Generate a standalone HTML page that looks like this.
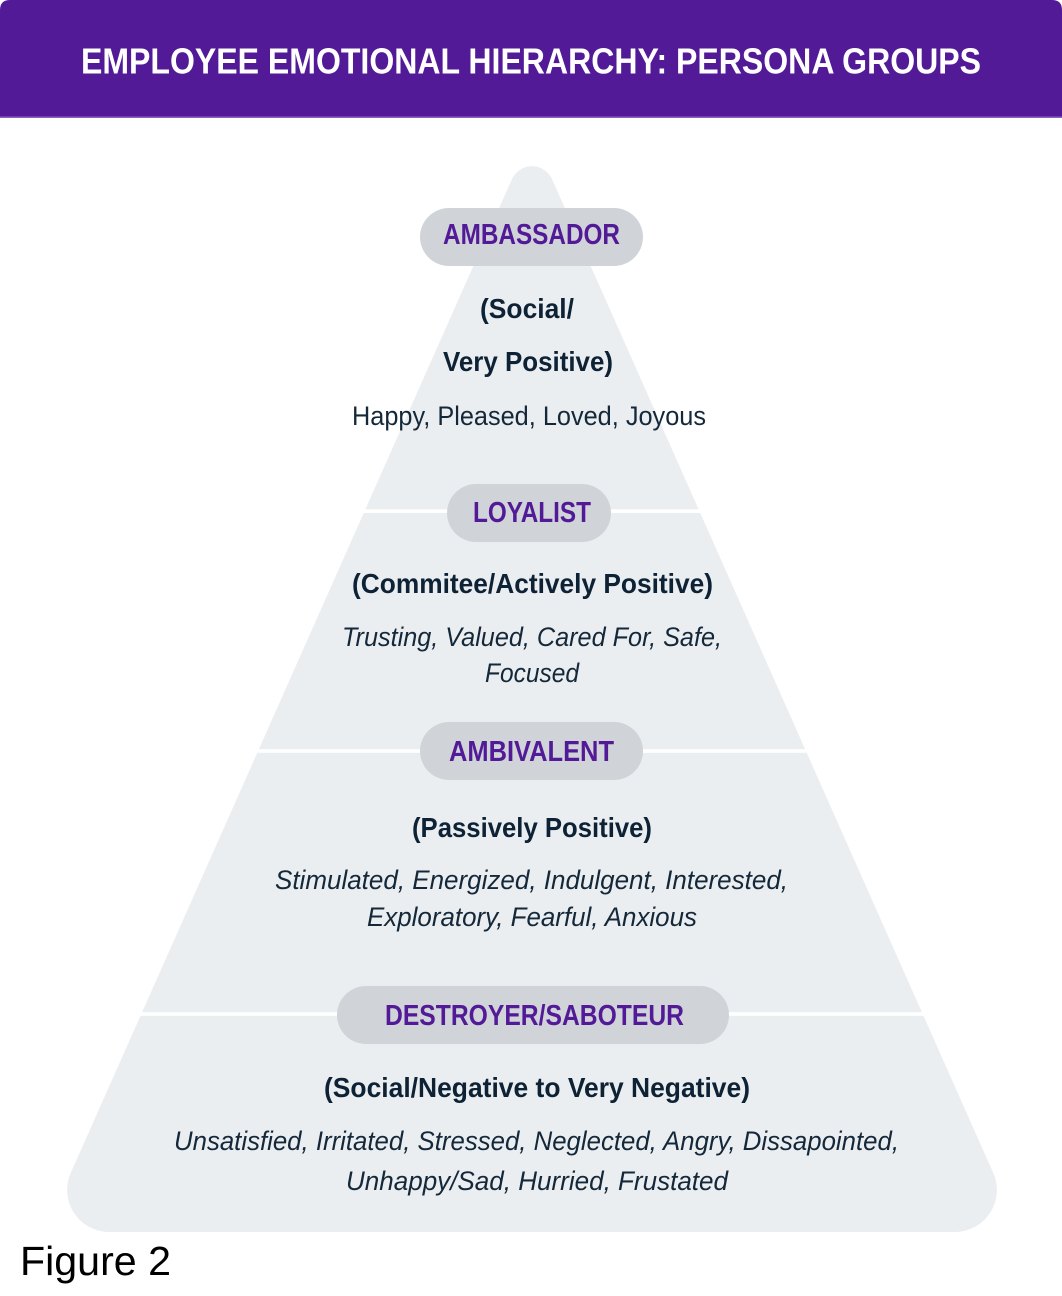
<!DOCTYPE html>
<html>
<head>
<meta charset="utf-8">
<style>
  html, body { margin: 0; padding: 0; background: #ffffff; }
  body { width: 1062px; height: 1296px; overflow: hidden; }
  svg { display: block; }
  .pill { font-family: "Liberation Sans", sans-serif; font-weight: bold; font-size: 29px; fill: #531a97; }
  .bold { font-family: "Liberation Sans", sans-serif; font-weight: bold; font-size: 28px; fill: #0e2236; }
  .reg { font-family: "Liberation Sans", sans-serif; font-size: 27px; fill: #14283a; }
  .ital { font-family: "Liberation Sans", sans-serif; font-style: italic; font-size: 27px; fill: #14283a; }
</style>
</head>
<body>
<svg width="1062" height="1296" viewBox="0 0 1062 1296" xmlns="http://www.w3.org/2000/svg">
  <rect x="0" y="0" width="1062" height="1296" fill="#ffffff"/>
  <!-- header -->
  <path d="M10 0 H1052 Q1062 0 1062 10 V117 H0 V10 Q0 0 10 0 Z" fill="#531a97"/>
  <rect x="0" y="116.5" width="1062" height="1.5" fill="#8b62c2"/>
  <text x="81" y="73.5" font-family="Liberation Sans, sans-serif" font-weight="bold" font-size="36" fill="#ffffff" textLength="900" lengthAdjust="spacingAndGlyphs">EMPLOYEE EMOTIONAL HIERARCHY: PERSONA GROUPS</text>

  <!-- pyramid -->
  <path d="M511.9 179.2 A22 22 0 0 1 552.1 179.2 L993.3 1173 A42 42 0 0 1 954.9 1232 L109.1 1232 A42 42 0 0 1 70.7 1173 Z" fill="#ebeef0"/>

  <!-- separators -->
  <rect x="0" y="509.3" width="1062" height="3.6" fill="#ffffff"/>
  <rect x="0" y="749.2" width="1062" height="3.6" fill="#ffffff"/>
  <rect x="0" y="1012.2" width="1062" height="3.6" fill="#ffffff"/>

  <!-- pills -->
  <rect x="420" y="208" width="223" height="58" rx="29" fill="#d0d4d8"/>
  <rect x="447" y="484" width="164" height="58" rx="29" fill="#d0d4d8"/>
  <rect x="420" y="722" width="223" height="58" rx="29" fill="#d0d4d8"/>
  <rect x="337" y="986" width="392" height="58" rx="29" fill="#d0d4d8"/>

  <text class="pill" x="443" y="244" textLength="177" lengthAdjust="spacingAndGlyphs">AMBASSADOR</text>
  <text class="pill" x="473" y="522" textLength="118" lengthAdjust="spacingAndGlyphs">LOYALIST</text>
  <text class="pill" x="449" y="761" textLength="165" lengthAdjust="spacingAndGlyphs">AMBIVALENT</text>
  <text class="pill" x="385" y="1025" textLength="299" lengthAdjust="spacingAndGlyphs">DESTROYER/SABOTEUR</text>

  <!-- Ambassador -->
  <text class="bold" x="480" y="318" textLength="94" lengthAdjust="spacingAndGlyphs">(Social/</text>
  <text class="bold" x="443" y="371" textLength="170" lengthAdjust="spacingAndGlyphs">Very Positive)</text>
  <text class="reg" x="352" y="425" textLength="354" lengthAdjust="spacingAndGlyphs">Happy, Pleased, Loved, Joyous</text>

  <!-- Loyalist -->
  <text class="bold" x="352" y="593" textLength="361" lengthAdjust="spacingAndGlyphs">(Commitee/Actively Positive)</text>
  <text class="ital" x="342" y="646" textLength="380" lengthAdjust="spacingAndGlyphs">Trusting, Valued, Cared For, Safe,</text>
  <text class="ital" x="485" y="682" textLength="94" lengthAdjust="spacingAndGlyphs">Focused</text>

  <!-- Ambivalent -->
  <text class="bold" x="412" y="837" textLength="240" lengthAdjust="spacingAndGlyphs">(Passively Positive)</text>
  <text class="ital" x="275" y="889" textLength="513" lengthAdjust="spacingAndGlyphs">Stimulated, Energized, Indulgent, Interested,</text>
  <text class="ital" x="367" y="926" textLength="330" lengthAdjust="spacingAndGlyphs">Exploratory, Fearful, Anxious</text>

  <!-- Destroyer -->
  <text class="bold" x="324" y="1097" textLength="426" lengthAdjust="spacingAndGlyphs">(Social/Negative to Very Negative)</text>
  <text class="ital" x="174" y="1150" textLength="725" lengthAdjust="spacingAndGlyphs">Unsatisfied, Irritated, Stressed, Neglected, Angry, Dissapointed,</text>
  <text class="ital" x="346" y="1190" textLength="382" lengthAdjust="spacingAndGlyphs">Unhappy/Sad, Hurried, Frustated</text>

  <!-- caption -->
  <text x="20" y="1275" font-family="Liberation Sans, Arial, sans-serif" font-size="41" fill="#000000" textLength="151" lengthAdjust="spacingAndGlyphs">Figure 2</text>
</svg>
</body>
</html>
